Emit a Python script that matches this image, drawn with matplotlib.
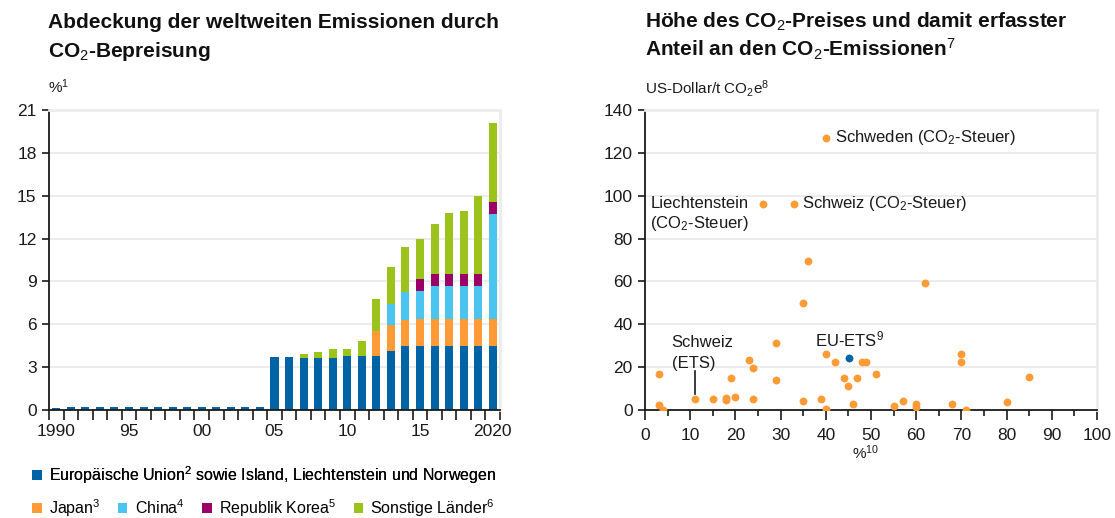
import matplotlib
matplotlib.use("Agg")
import matplotlib.pyplot as plt
from matplotlib.ticker import FixedLocator, MultipleLocator
import numpy as np

plt.rcParams['font.family'] = ['Liberation Sans', 'DejaVu Sans']
plt.rcParams['mathtext.fontset'] = 'custom'
plt.rcParams['mathtext.rm'] = 'Liberation Sans'
plt.rcParams['mathtext.it'] = 'Liberation Sans'
plt.rcParams['mathtext.bf'] = 'Liberation Sans:bold'

# ---------------- data: left chart ----------------
years = list(range(1990, 2021))
eu = [0.12, 0.2, 0.2, 0.2, 0.2, 0.2, 0.2, 0.2, 0.2, 0.2, 0.2, 0.2, 0.2, 0.2, 0.2,
      3.7, 3.7, 3.65, 3.65, 3.65, 3.75, 3.75, 3.75, 4.12, 4.47, 4.47, 4.47, 4.47, 4.47, 4.47, 4.47]
japan = [0]*22 + [1.8, 1.83, 1.81, 1.9, 1.9, 1.9, 1.9, 1.9, 1.9]
china = [0]*23 + [1.44, 1.95, 1.93, 2.28, 2.28, 2.28, 2.28, 7.37]
korea = [0]*25 + [0.84, 0.84, 0.84, 0.84, 0.84, 0.84]
other = [0]*15 + [0.04, 0.04, 0.25, 0.4, 0.6, 0.5, 1.05, 2.2, 2.65, 3.21, 2.86, 3.56, 4.32, 4.46, 5.51, 5.51]

series_names = ["Europäische Union$^2$ sowie Island, Liechtenstein und Norwegen",
                "Japan$^3$", "China$^4$", "Republik Korea$^5$", "Sonstige Länder$^6$"]
series_colors = ["#0063A6", "#FF9B36", "#4CC4F0", "#9B0066", "#9CC31C"]

left_yticks = [0, 3, 6, 9, 12, 15, 18, 21]
left_xtick_pos = [1990, 1995, 2000, 2005, 2010, 2015, 2020]
left_xtick_lab = ["1990", "95", "00", "05", "10", "15", "2020"]

# ---------------- data: right chart ----------------
share = [40, 26, 33, 36, 62, 35, 29, 40, 42, 48, 49, 51, 44, 47, 45, 70, 70, 85,
         3, 3, 4, 23, 24, 19, 29, 11, 15, 18, 18, 20, 24, 35, 39, 40, 46, 55, 57, 60, 60, 68, 71, 80]
price = [127, 96.3, 96.3, 69.5, 59.2, 50, 31.1, 26.2, 22.3, 22.3, 22.3, 17, 15, 15, 11.2, 26.2, 22.3, 15.6,
         16.7, 2.3, 0, 23.5, 19.4, 15, 14.2, 5, 5, 5.7, 4.6, 5.9, 5, 4, 5, 0.3, 2.9, 2, 4.3, 2.9, 1.4, 2.6, 0.2, 3.6]
eu_ets_share = [45.2]
eu_ets_price = [24.5]

right_yticks = [0, 20, 40, 60, 80, 100, 120, 140]
right_xticks = [0, 10, 20, 30, 40, 50, 60, 70, 80, 90, 100]

# ---------------- figure ----------------
W, H = 1115, 518
fig = plt.figure(figsize=(W/100, H/100), dpi=100)
ax1 = fig.add_axes([49/W, 108/H, 451/W, 300/H])
ax2 = fig.add_axes([645/W, 108/H, 452/W, 300/H])

tick_color = "#1a1a1a"
grid_color = "#ececec"

def style_axes(ax):
    for s in ["top", "right"]:
        ax.spines[s].set_color(grid_color)
        ax.spines[s].set_linewidth(2)
    for s in ["left", "bottom"]:
        ax.spines[s].set_color(tick_color)
        ax.spines[s].set_linewidth(1.3)
    ax.grid(axis="y", color=grid_color, linewidth=1.5)
    ax.set_axisbelow(True)
    ax.tick_params(axis="y", direction="out", length=5, width=1.2, color=tick_color,
                   labelsize=12.5, labelcolor=tick_color, pad=4)

# left chart
style_axes(ax1)
bottom = np.zeros(len(years))
bars = []
for vals, col in zip([eu, japan, china, korea, other], series_colors):
    b = ax1.bar(years, vals, width=0.55, bottom=bottom, color=col, linewidth=0, zorder=2)
    bars.append(b)
    bottom += np.array(vals)
ax1.set_xlim(1989.5, 2020.5)
ax1.set_ylim(0, 21)
ax1.set_yticks(left_yticks)
ax1.xaxis.set_major_locator(FixedLocator(left_xtick_pos))
ax1.set_xticklabels(left_xtick_lab)
ax1.xaxis.set_minor_locator(FixedLocator(np.arange(1989.5, 2021, 1.0)))
ax1.tick_params(axis="x", which="major", length=0, labelsize=12.5, labelcolor=tick_color, pad=10)
ax1.tick_params(axis="x", which="minor", direction="out", length=7, width=1.2, color=tick_color)

# right chart
style_axes(ax2)
ax2.scatter(share, price, s=32, color="#FF9B36", linewidths=0, zorder=3)
ax2.scatter(eu_ets_share, eu_ets_price, s=32, color="#0063A6", linewidths=0, zorder=4)
ax2.set_xlim(0, 100)
ax2.set_ylim(0, 140)
ax2.set_yticks(right_yticks)
ax2.set_xticks(right_xticks)
ax2.xaxis.set_minor_locator(MultipleLocator(5))
ax2.tick_params(axis="x", which="major", direction="out", length=7, width=1.2, color=tick_color,
                labelsize=12.5, labelcolor=tick_color, pad=6)
ax2.tick_params(axis="x", which="minor", direction="out", length=4, width=1.2, color=tick_color)

ann_fs = 12
ax2.text(42.1, 127, "Schweden (CO$_2$-Steuer)", fontsize=ann_fs, va="center", ha="left", color=tick_color)
ax2.text(1.2, 96.3, "Liechtenstein", fontsize=ann_fs, va="center", ha="left", color=tick_color)
ax2.text(1.2, 87.0, "(CO$_2$-Steuer)", fontsize=ann_fs, va="center", ha="left", color=tick_color)
ax2.text(34.8, 96.3, "Schweiz (CO$_2$-Steuer)", fontsize=ann_fs, va="center", ha="left", color=tick_color)
ax2.text(37.6, 33.1, "EU-ETS$^9$", fontsize=ann_fs, va="center", ha="left", color=tick_color)
ax2.text(5.9, 31.3, "Schweiz", fontsize=ann_fs, va="center", ha="left", color=tick_color)
ax2.text(5.9, 21.5, "(ETS)", fontsize=ann_fs, va="center", ha="left", color=tick_color)
ax2.plot([11, 11], [7.3, 18.1], color=tick_color, linewidth=1.2, zorder=2)

# titles and unit labels
tkw = dict(fontsize=15, fontweight="bold", va="baseline", ha="left", color="#111111")
fig.text(48/W, 1 - 28/H, "Abdeckung der weltweiten Emissionen durch", **tkw)
fig.text(48/W, 1 - 57/H, "CO$_2$-Bepreisung", **tkw)
fig.text(645/W, 1 - 28/H, "Höhe des CO$_2$-Preises und damit erfasster", **tkw)
fig.text(645/W, 1 - 57/H, "Anteil an den CO$_2$-Emissionen$^7$", **tkw)
fig.text(48/W, 1 - 93/H, "%$^1$", fontsize=11, va="baseline", ha="left", color=tick_color)
fig.text(645/W, 1 - 94/H, "US-Dollar/t CO$_2$e$^8$", fontsize=11, va="baseline", ha="left", color=tick_color)
fig.text(866/W, 1 - 453/H, "%$^{10}$", fontsize=11, va="center", ha="center", color=tick_color)

# legends
lkw = dict(frameon=False, fontsize=11.5, handlelength=0.6, handleheight=0.6,
           handletextpad=0.45, borderaxespad=0, borderpad=0)
leg1 = fig.legend([bars[0]], [series_names[0]], loc="center left",
                  bbox_to_anchor=(32/W, 1 - 475/H), **lkw)
fig.add_artist(leg1)
fig.legend(bars[1:], series_names[1:], loc="center left", ncol=4,
           bbox_to_anchor=(32/W, 1 - 508/H), columnspacing=1.1, **lkw)

fig.savefig("out.png", dpi=100)
